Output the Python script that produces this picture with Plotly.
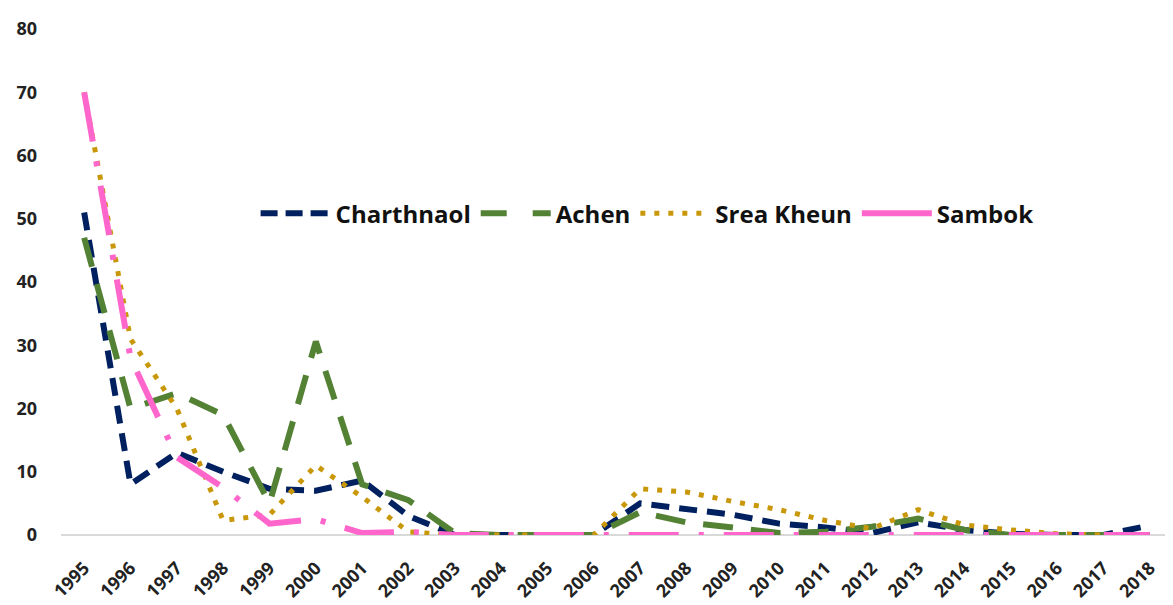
import plotly.graph_objects as go

years = list(range(1995, 2019))
charthnaol = [51, 8, 13, 10, 7.3, 7, 8.6, 3, 0, 0, 0, 0, 5, 4, 3.2, 1.8, 1.2, 0.3, 2, 0.8, 0.2, 0, 0, 1.5]
achen = [47, 20, 22.4, 19, 5, 30.6, 8, 5.5, 0.3, 0, 0, 0, 3.6, 2, 1.2, 0.3, 0.5, 1.3, 2.6, 0.8, 0, 0, 0, 0]
srea_kheun = [70, 31, 20, 2.3, 3.2, 11, 6, 0.5, 0, 0, 0, 0, 7.3, 6.8, 5.3, 4, 2.3, 1, 4, 1.6, 0.8, 0.2, 0, 0]
sambok = [70, 28, 12.3, 7.5, 1.8, 2.5, 0.3, 0.5, 0, 0, 0, 0, 0, 0, 0, 0, 0, 0, 0, 0, 0, 0, 0, 0]

# name, values, colour, line dash, legend dash, width
series = [
    ("Charthnaol", charthnaol, "#002060", "18px,10px", "17px,8px", 6),
    ("Achen", achen, "#548235", "30px,18px", "26px,26px", 6),
    ("Srea Kheun", srea_kheun, "#C9980A", "5px,9px", "5px,9px", 5),
    ("Sambok", sambok, "#FF66CC", "50px,20px,5px,20px", "solid", 6),
]

fig = go.Figure()
for name, vals, color, dash, ldash, w in series:
    fig.add_trace(go.Scatter(x=years, y=vals, mode="lines", name=name, showlegend=False,
                             legendgroup=name,
                             line=dict(color=color, width=w, dash=dash)))
for name, vals, color, dash, ldash, w in series:
    fig.add_trace(go.Scatter(x=[None], y=[None], mode="lines", name=name, showlegend=True,
                             legendgroup=name,
                             line=dict(color=color, width=w, dash=ldash)))

# page body adds an 8px offset, margins compensate for it
fig.update_layout(
    width=1173, height=605,
    margin=dict(l=52, r=8, t=17, b=78),
    paper_bgcolor="white", plot_bgcolor="white",
    font=dict(family="Open Sans", color="#222222"),
    showlegend=True,
    legend=dict(orientation="h", x=0.175, y=0.635, xanchor="left", yanchor="middle",
                font=dict(size=24, family="Open Sans", color="#111111", weight="bold"),
                itemwidth=70, bgcolor="rgba(0,0,0,0)", traceorder="normal"),
    xaxis=dict(range=[1994.5, 2018.5], tickmode="array", tickvals=years,
               ticktext=[str(y) for y in years], tickangle=-45,
               tickfont=dict(size=18, family="Open Sans", weight="bold"),
               showgrid=False, zeroline=False, showline=False, ticks="",
               ticklabelstandoff=18),
    yaxis=dict(range=[0, 80], tickvals=[0, 10, 20, 30, 40, 50, 60, 70, 80],
               tickfont=dict(size=18, family="Open Sans", weight="bold"),
               showgrid=False, zeroline=True, zerolinecolor="#D9D9D9", zerolinewidth=2,
               showline=False, ticks="", ticklabelstandoff=23),
)

fig.write_html("out.html")
